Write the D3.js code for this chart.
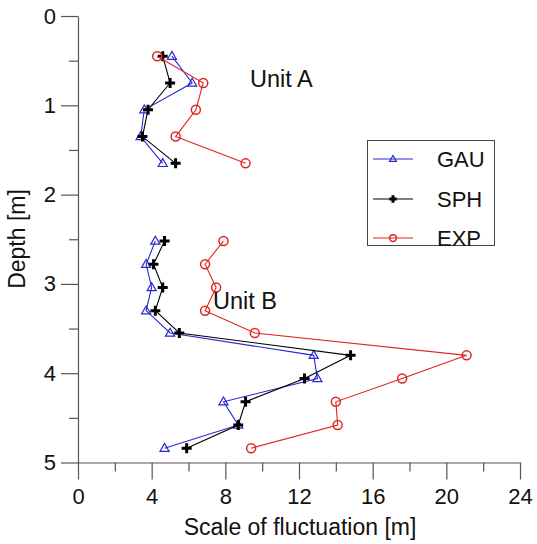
<!DOCTYPE html>
<html>
<head>
    <title>Scale of fluctuation vs depth</title>
    <script src="https://d3js.org/d3.v7.min.js"></script>
    <style>
        body { margin: 0; background: #fff; }
        svg text { font-family: "Liberation Sans", Arial, sans-serif; fill: #111; }
    </style>
</head>
<body>
    <div id="chart"></div>
    <script>
        // Unit A (upper layer)
        const depthA = [0.45, 0.75, 1.05, 1.35, 1.65];
        const gauA = [5.1, 6.2, 3.6, 3.4, 4.6];
        const sphA = [4.6, 5.0, 3.8, 3.5, 5.3];
        const expA = [4.3, 6.8, 6.4, 5.3, 9.1];

        // Unit B (lower layer)
        const depthB = [2.52, 2.78, 3.04, 3.30, 3.55, 3.80, 4.06, 4.32, 4.58, 4.84];
        const gauB = [4.2, 3.7, 4.0, 3.7, 5.0, 12.8, 13.0, 7.9, 8.7, 4.7];
        const sphB = [4.7, 4.1, 4.6, 4.2, 5.5, 14.8, 12.3, 9.1, 8.7, 5.9];
        const expB = [7.9, 6.9, 7.5, 6.9, 9.6, 21.1, 17.6, 14.0, 14.1, 9.4];

        const xTicks = [0, 4, 8, 12, 16, 20, 24];
        const yTicks = [0, 1, 2, 3, 4, 5];
        const seriesNames = ["GAU", "SPH", "EXP"];

        const width = 537;
        const height = 544;

        const svg = d3.select("#chart")
            .append("svg")
            .attr("width", width)
            .attr("height", height);

        const x = d3.scaleLinear().domain([0, 24]).range([78, 520]);
        const y = d3.scaleLinear().domain([0, 5]).range([16, 462.5]);

        const axisColor = "#555";

        // minor ticks first, then major axis on top
        svg.append("g")
            .attr("transform", `translate(0,${y(5)})`)
            .call(d3.axisBottom(x).tickValues(d3.range(2, 24, 4)).tickSize(9).tickFormat(""))
            .call(g => g.select(".domain").remove());
        svg.append("g")
            .attr("transform", `translate(${x(0)},0)`)
            .call(d3.axisLeft(y).tickValues(d3.range(0.5, 5, 1)).tickSize(9).tickFormat(""))
            .call(g => g.select(".domain").remove());

        const xAxis = svg.append("g")
            .attr("transform", `translate(0,${y(5)})`)
            .call(d3.axisBottom(x).tickValues(xTicks).tickFormat(d3.format("d"))
                .tickSize(17).tickPadding(9).tickSizeOuter(0));
        xAxis.selectAll("text").style("font-size", "22px");

        const yAxis = svg.append("g")
            .attr("transform", `translate(${x(0)},0)`)
            .call(d3.axisLeft(y).tickValues(yTicks).tickFormat(d3.format("d"))
                .tickSize(17).tickPadding(5).tickSizeOuter(0));
        yAxis.selectAll("text").style("font-size", "22px");

        svg.selectAll(".tick line, .domain")
            .attr("stroke", axisColor)
            .attr("stroke-width", 1.2);

        // axis titles
        svg.append("text")
            .attr("x", 300)
            .attr("y", 535)
            .attr("text-anchor", "middle")
            .style("font-size", "23px")
            .text("Scale of fluctuation [m]");

        svg.append("text")
            .attr("transform", "translate(25,239) rotate(-90)")
            .attr("text-anchor", "middle")
            .style("font-size", "23px")
            .text("Depth [m]");

        // series styles
        const styles = {
            GAU: { color: "#2828d0", marker: "triangle" },
            SPH: { color: "#000000", marker: "plus" },
            EXP: { color: "#e02424", marker: "circle" }
        };

        function drawMarker(g, type, color, cx, cy, s) {
            if (type === "triangle") {
                g.append("path")
                    .attr("d", d3.symbol(d3.symbolTriangle, 36 * s * s)())
                    .attr("transform", `translate(${cx},${cy + 0.5})`)
                    .attr("fill", "none")
                    .attr("stroke", color)
                    .attr("stroke-width", 1.2);
            } else if (type === "plus") {
                g.append("path")
                    .attr("d", `M${-5 * s},0H${5 * s}M0,${-5 * s}V${5 * s}`)
                    .attr("transform", `translate(${cx},${cy})`)
                    .attr("stroke", color)
                    .attr("stroke-width", 3);
            } else {
                g.append("circle")
                    .attr("cx", cx)
                    .attr("cy", cy)
                    .attr("r", 4.5 * s)
                    .attr("fill", "none")
                    .attr("stroke", color)
                    .attr("stroke-width", 1.5);
            }
        }

        const line = d3.line().x(d => x(d[0])).y(d => y(d[1]));

        function drawSeries(name, depths, values) {
            const st = styles[name];
            const pts = values.map((v, i) => [v, depths[i]]);
            const g = svg.append("g");
            g.append("path")
                .attr("d", line(pts))
                .attr("fill", "none")
                .attr("stroke", st.color)
                .attr("stroke-width", 1.1);
            pts.forEach(p => drawMarker(g, st.marker, st.color, x(p[0]), y(p[1]), 1));
        }

        drawSeries("GAU", depthA, gauA);
        drawSeries("GAU", depthB, gauB);
        drawSeries("SPH", depthA, sphA);
        drawSeries("SPH", depthB, sphB);
        drawSeries("EXP", depthA, expA);
        drawSeries("EXP", depthB, expB);

        // unit labels
        svg.append("text").attr("x", 250).attr("y", 87).style("font-size", "23.5px").text("Unit A");
        svg.append("text").attr("x", 213).attr("y", 309).style("font-size", "23.5px").text("Unit B");

        // legend
        const legend = svg.append("g");
        legend.append("rect")
            .attr("x", 367.5)
            .attr("y", 140.5)
            .attr("width", 127)
            .attr("height", 105)
            .attr("fill", "#fff")
            .attr("stroke", "#444")
            .attr("stroke-width", 1);

        const legendY = [159, 199, 238];
        seriesNames.forEach((name, i) => {
            const st = styles[name];
            legend.append("line")
                .attr("x1", 373).attr("x2", 413)
                .attr("y1", legendY[i]).attr("y2", legendY[i])
                .attr("stroke", st.color)
                .attr("stroke-width", 1.1);
            drawMarker(legend, st.marker, st.color, 393, legendY[i], 0.75);
            legend.append("text")
                .attr("x", 437)
                .attr("y", legendY[i])
                .attr("dy", "0.36em")
                .style("font-size", "22px")
                .text(name);
        });
    </script>
</body>
</html>
